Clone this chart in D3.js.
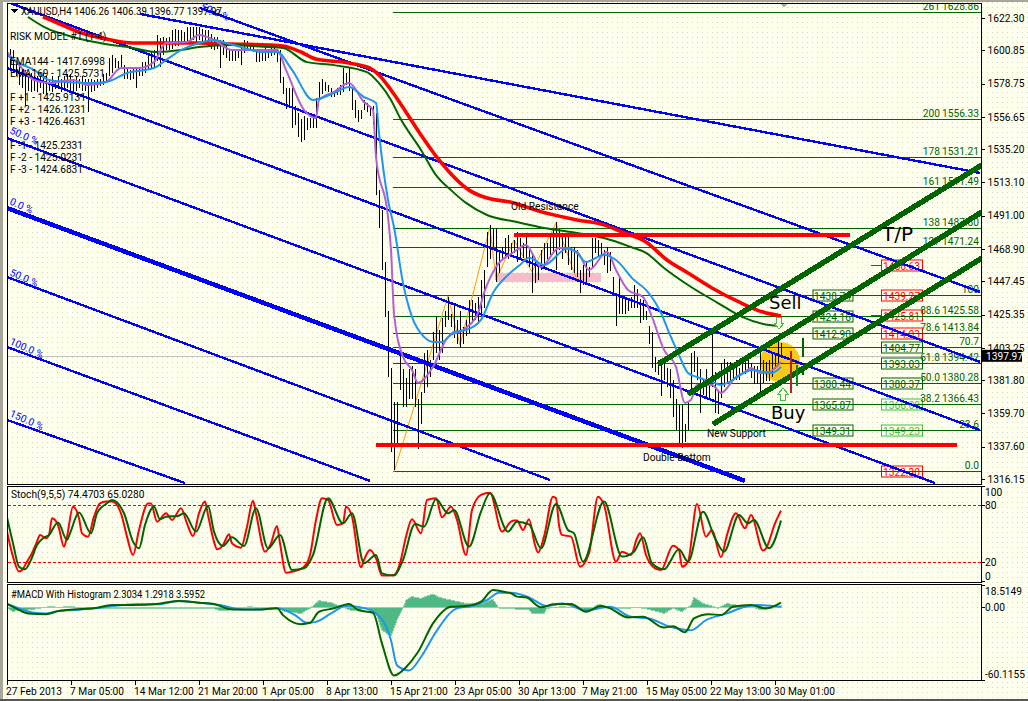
<!DOCTYPE html>
<html><head><meta charset="utf-8">
<style>html,body{margin:0;padding:0;background:#fff;overflow:hidden}svg{display:block}text{font-family:Roboto,"Noto Sans",sans-serif;font-size:10.2px;fill:#000}line,path{shape-rendering:crispEdges}</style>
<script src="https://cdn.jsdelivr.net/npm/d3@7/dist/d3.min.js"></script>
</head><body><svg id="c" width="1028" height="701"></svg>
<script>
const barHigh=[1594,1602,1601,1594,1591,1588,1588,1586,1586,1584,
1584,1586,1586,1584,1582,1584,1581,1584,1582,1584,
1585,1585,1582,1584,1582,1584,1582,1582,1582,1581,
1582,1582,1585,1586,1596,1598,1596,1594,1598,1591,
1589,1588,1590,1589,1590,1593,1593,1598,1600,1601,
1611,1609,1610,1609,1610,1614,1615,1614,1614,1613,
1616,1616,1616,1616,1616,1615,1614,1614,1612,1610,
1610,1608,1608,1605,1601,1602,1601,1602,1603,1608,
1607,1606,1606,1602,1601,1601,1603,1601,1603,1604,
1602,1601,1583,1576,1576,1576,1564,1559,1555,1557,
1556,1556,1556,1569,1580,1582,1580,1578,1576,1574,
1576,1578,1589,1586,1589,1576,1568,1561,1561,1568,
1566,1564,1564,1559,1508,1495,1460,1428,1390,1367,
1367,1403,1389,1383,1389,1391,1389,1369,1374,1400,
1402,1395,1414,1424,1415,1423,1428,1437,1426,1433,
1422,1428,1417,1422,1435,1435,1433,1437,1448,1455,
1480,1485,1482,1483,1466,1470,1476,1478,1473,1475,
1480,1476,1473,1477,1470,1465,1463,1460,1468,1473,
1473,1478,1482,1487,1482,1478,1478,1478,1470,1470,
1468,1455,1458,1460,1457,1476,1476,1475,1473,1468,
1470,1467,1450,1438,1450,1438,1437,1436,1437,1445,
1442,1436,1435,1428,1418,1414,1397,1395,1395,1395,
1390,1389,1382,1369,1365,1365,1353,1367,1400,1401,
1397,1389,1382,1389,1382,1414,1387,1375,1393,1396,
1394,1394,1391,1395,1390,1395,1395,1397,1393,1391,
1391,1403,1395,1394,1395,1400,1400,1410,1406.39];
const barLow=[1586,1589,1588,1584,1578,1576,1564,1574,1573,1574,
1573,1576,1572,1571,1574,1573,1575,1575,1573,1576,
1576,1574,1573,1574,1576,1574,1574,1560,1573,1574,
1576,1577,1578,1580,1584,1586,1589,1588,1589,1582,
1582,1581,1582,1576,1584,1584,1586,1588,1589,1589,
1594,1590,1598,1601,1601,1602,1604,1604,1606,1605,
1606,1605,1608,1606,1608,1606,1605,1603,1602,1601,
1602,1589,1598,1596,1594,1594,1594,1596,1591,1599,
1601,1601,1600,1593,1593,1594,1594,1596,1597,1598,
1593,1579,1572,1562,1563,1549,1551,1543,1540,1541,
1548,1549,1549,1549,1568,1572,1574,1573,1570,1570,
1571,1571,1573,1578,1574,1561,1556,1553,1555,1561,
1560,1557,1551,1505,1483,1455,1424,1384,1334,1322,
1340,1375,1364,1364,1369,1369,1364,1336,1353,1373,
1377,1384,1395,1400,1395,1400,1417,1422,1417,1410,
1406,1404,1406,1411,1413,1420,1422,1420,1426,1430,
1457,1462,1470,1447,1453,1462,1464,1462,1464,1466,
1460,1462,1463,1462,1457,1440,1446,1448,1455,1456,
1462,1465,1466,1455,1468,1462,1466,1458,1455,1453,
1450,1440,1445,1447,1450,1457,1466,1464,1465,1458,
1453,1454,1438,1418,1426,1426,1426,1428,1430,1430,
1430,1420,1422,1422,1406,1390,1387,1385,1371,1382,
1377,1370,1357,1349,1340,1337,1341,1349,1375,1387,
1382,1360,1372,1369,1370,1377,1360,1359,1370,1377,
1380,1381,1381,1382,1382,1386,1386,1389,1383,1379,
1379,1373,1380,1381,1381,1384,1389,1391,1396.77];
const maRed=[[12,1623],[18,1618],[24,1613],[33,1608.4],[42,1605.7],[55,1605.7],[64,1605.7],[75,1605],[87,1604.4],[92,1603.7],[98,1599.7],[103,1595],[114,1592.4],[121,1589],[124,1584.5],[128,1574.5],[131,1565.9],[138,1544.6],[144,1528],[154,1508],[159,1503.4],[169,1499.5],[177,1494.2],[190,1488.2],[199,1484.9],[205,1480.2],[213,1473.6],[220,1461.6],[227,1453],[235,1443],[244,1433.7],[252,1427],[258,1424.4]];
const maGreen=[[7,1623],[13,1615.7],[22,1609.7],[31,1605.7],[42,1602.4],[50,1599.7],[58,1601],[64,1603],[75,1604.4],[87,1603],[92,1602.4],[100,1593],[109,1591],[120,1586.4],[124,1579],[128,1567.9],[131,1556],[138,1534.7],[143,1518],[148,1508],[153,1499.5],[160,1491.5],[170,1486.8],[179,1482.9],[190,1479.5],[199,1476.2],[208,1470.2],[213,1466.3],[219,1456.3],[227,1445],[237,1433],[245,1423.8],[254,1418.4],[258,1417.8]];
const maBlue=[[0,1597.7],[4,1592.4],[9,1587.8],[14,1581.1],[20,1579.8],[27,1579.1],[33,1579.8],[40,1585.8],[49,1589.1],[53,1594.4],[58,1601],[64,1605.7],[69,1607.7],[73,1605.7],[79,1602.4],[85,1599.7],[90,1599.7],[95,1587.8],[102,1567.9],[109,1572.5],[114,1576.5],[119,1569.8],[123,1565.9],[124,1546],[127,1501.5],[129,1483.5],[132,1446.3],[135,1423.8],[139,1410.5],[142,1407.2],[145,1407.2],[149,1413.8],[153,1415.1],[158,1421.8],[162,1439.7],[167,1451.7],[171,1458.3],[174,1463],[179,1458.3],[187,1469.6],[190,1466.3],[193,1460.3],[199,1465],[203,1461.6],[209,1448.3],[213,1441.7],[218,1426.4],[221,1411.8],[224,1398.5],[227,1386.6],[230,1383.9],[235,1380.6],[238,1378.6],[243,1383.3],[246,1387.2],[249,1388.6],[252,1387.2],[255,1386.6],[258,1390.6]];
const maPurple=[[0,1599.7],[4,1591.1],[9,1581.1],[14,1579.1],[22,1581.1],[27,1577.8],[33,1579.8],[38,1589.1],[44,1589.1],[49,1593.1],[53,1605.7],[60,1606.4],[64,1611],[69,1607.7],[75,1601],[83,1601],[90,1601],[93,1587.8],[99,1561.2],[103,1555.9],[104,1567.9],[109,1573.2],[114,1579.1],[119,1566.5],[122,1561.2],[123,1530],[127,1490.2],[128,1468.2],[129,1426.4],[132,1397.2],[135,1388.6],[137,1380],[142,1390.6],[147,1410.5],[152,1415.1],[157,1426.4],[159,1439.7],[163,1457],[169,1466.9],[173,1471.6],[178,1457],[184,1469.6],[190,1466.9],[194,1455],[200,1466.9],[203,1455],[207,1441.7],[212,1437],[215,1423.8],[219,1401.9],[223,1390.6],[226,1366.7],[228,1368.7],[230,1378.6],[235,1378.6],[238,1373.3],[243,1383.9],[246,1387.2],[248,1389.9],[251,1386.6],[254,1387.2],[258,1393.9]];
const stochMain=[[0,52.3],[2,26],[4,10.2],[5,12],[7,22.5],[8,27.7],[10,41.8],[11,48.8],[13,45.3],[14,48.8],[15,66.3],[17,59.3],[19,36.5],[20,47],[22,78.6],[24,66.3],[25,50.5],[27,47],[29,68],[31,82],[33,83.9],[35,83.9],[38,71.6],[40,47],[42,27.7],[44,54],[47,82],[48,82],[50,62.8],[53,71.6],[55,64.6],[58,76.8],[60,61],[62,47.7],[64,71.6],[66,83.9],[67,69.8],[69,41.8],[70,33.7],[72,38.2],[74,49.5],[75,40],[78,35.4],[80,57.5],[82,84.9],[83,71.6],[86,31.2],[88,40],[90,58.2],[91,40],[93,9],[95,10],[99,15.4],[101,27.7],[103,64.6],[105,87.4],[107,85.6],[110,59.3],[112,61],[113,78.6],[115,68],[118,14.7],[119,22.5],[121,33],[123,24.2],[125,6],[129,6.7],[131,19],[133,47],[135,65.3],[138,50.5],[140,85.6],[143,87.4],[145,67.4],[148,78.6],[150,64.6],[153,27.7],[155,75],[158,90.9],[161,93.3],[165,52.3],[168,62.8],[169,63.9],[170,63.9],[172,54],[174,65.3],[176,38.2],[177,30.2],[179,47],[182,89],[183,87.4],[184,59.3],[185,48.8],[188,47],[191,15.4],[194,29.5],[197,89],[199,80.4],[203,20.7],[205,31.2],[208,27.7],[210,45.3],[211,50.5],[213,27.7],[216,13.7],[218,12],[222,37.5],[224,33],[225,15.4],[227,20.7],[230,81.4],[233,47],[235,54],[238,25.3],[240,48.8],[243,71.6],[246,55.8],[248,69.8],[252,32.3],[253,34.7],[256,61],[258,74.4]];
const stochSignal=[[0,67.4],[2,40],[4,15.4],[6,12.6],[8,22.5],[10,38.2],[12,45.3],[14,48.8],[17,61.8],[20,43.5],[21,50.5],[24,72.3],[28,50.5],[30,71.6],[33,81.4],[35,85.6],[39,71.6],[42,41.8],[44,34.7],[46,59.3],[49,78.6],[51,65.3],[53,68],[57,68.8],[59,71.6],[63,52.3],[67,79.3],[69,52.3],[72,37.2],[75,46.3],[79,37.2],[83,76.8],[87,34.7],[91,48.8],[95,12],[99,13.7],[102,27.7],[107,87.4],[112,61],[115,71.6],[119,19],[123,27.7],[125,8.4],[129,6],[132,22.5],[136,60.4],[139,57.5],[143,86.3],[147,71.6],[149,75],[154,36.5],[158,73.3],[161,92.6],[167,52.3],[170,62.8],[174,60],[178,34.7],[183,81.4],[187,54],[189,50.5],[192,20.7],[199,83.9],[205,26],[209,31.2],[212,46.3],[215,19],[219,12.6],[224,33.7],[227,20.7],[232,73.3],[236,45.3],[239,31.2],[244,69.8],[247,61],[249,64.6],[254,34.7],[258,63.9]];
const macdHist=[[0,0],[2,-3.6],[3,-2.8],[7,-2.2],[10,-1.1],[14,.6],[18,0],[21,1.1],[25,-.8],[31,-.6],[40,-1.1],[44,-1.1],[53,-1.1],[62,-.6],[69,-1.1],[71,-2.8],[74,-2.2],[78,-1.1],[81,1.1],[83,-.8],[90,0],[93,-3.6],[98,-5],[101,-.8],[104,5.5],[108,3.9],[112,0],[115,-2.8],[120,-.6],[123,-5],[125,-18.9],[128,-23.9],[130,-10.6],[132,-.8],[133,6.1],[135,8.9],[138,7.5],[142,11.1],[144,8.3],[153,3.3],[158,2.8],[162,6.7],[164,-.8],[168,-1.1],[174,-2.2],[175,-5],[179,-5],[180,-.8],[185,.6],[192,-.8],[194,-3.6],[197,2.8],[202,-.8],[207,-.8],[210,0],[214,-1.7],[219,-5],[222,-.8],[225,-3.6],[228,1.9],[229,8.3],[232,3.3],[235,1.1],[237,-.8],[240,3.3],[243,1.9],[248,1.1],[251,-2.2],[255,-.8],[258,1.1]];
const macdLine=[[0,2.8],[3,-.8],[7,-5],[13,-5.6],[17,-3.1],[22,-1.7],[29,-.8],[35,1.9],[42,1.9],[50,2.8],[57,5.3],[64,3.9],[69,2.8],[75,-1.7],[83,-1.7],[90,-.8],[92,-6.4],[98,-13.9],[101,-12.8],[104,-3.6],[109,-.8],[114,2.8],[117,-2.2],[122,-4.5],[125,-30],[129,-56.4],[133,-49.5],[137,-37],[142,-13.3],[148,.5],[153,1.1],[158,4.7],[162,14.4],[167,12.2],[168,11.7],[170,8.9],[173,8.3],[178,0],[182,2.5],[188,2.8],[193,-3.6],[198,1.1],[201,-.8],[207,-8.3],[212,-7.8],[219,-16.7],[222,-15.6],[226,-20.6],[229,-9.2],[234,-5.6],[238,-6.4],[242,.5],[248,1.9],[253,-.8],[258,3.9]];
const macdSignal=[[0,2.8],[4,-.8],[9,-4.5],[13,-5],[17,-3.1],[22,-2.2],[29,-.8],[35,1.1],[43,2.5],[50,2.5],[57,5.3],[64,3.9],[71,1.9],[78,-1.7],[84,-1.7],[90,-.8],[96,-6.4],[100,-12.8],[103,-12],[108,-5],[113,1.1],[118,0],[123,-5],[128,-27.2],[130,-48],[134,-52.2],[138,-41.1],[143,-20.3],[150,-.8],[155,1.1],[160,6.1],[164,12.2],[168,12.2],[174,8.3],[180,1.1],[185,3.3],[193,-2.2],[201,.5],[208,-7.8],[214,-9.2],[221,-16.1],[228,-18.9],[233,-10.6],[240,-5],[246,.5],[250,1.9],[258,.5]];
const priceTicks=[1622.30,1600.85,1578.75,1556.65,1535.20,1513.10,1491.00,1468.90,1447.45,1425.35,1403.25,1381.80,1359.70,1337.60,1316.15];
const dateLabels=["27 Feb 2013","7 Mar 05:00","14 Mar 12:00","21 Mar 20:00","1 Apr 05:00","8 Apr 13:00","15 Apr 21:00","23 Apr 05:00","30 Apr 13:00","7 May 21:00","15 May 05:00","22 May 13:00","30 May 01:00"];
const fibPrice=[1626.6,1555,1529.8,1509.8,1482.7,1470,1438.4,1424.2,1413,1403.8,1393.1,1380,1365.9,1348.6,1321.2];
const fibLevel=["261","200","178","161","138","127","100","88.6","78.6","70.7","61.8","50.0","38.2","23.6","0.0"];
const fibValue=["1628.86","1556.33","1531.21","1511.49","1487.80","1471.24","","1425.58","1413.84","","1394.42","1380.28","1366.43","",""];
const blueLines=[[44.3,1625,324.3,1519.4],[64.3,1629,324.3,1440.4],[0,1633,324.3,1393.9],[0,1589.1,324.3,1348.7],[0,1542.6,309.3,1313.5],[0,1450.3,181,1315.5],[0,1403.8,121,1314.9],[0,1355.4,59.3,1313.5]];
const blueThick=[0,1496.1,246,1314.9];
const greenChannels=[[217.7,1393.2,325,1524.7],[227.7,1373.3,325,1493.5],[236,1353.4,325,1462.9]];
const resistance=[169.7,280.3,1478.2];
const support=[123.7,316,1338.8];
const zigzag=[[129,1320.8],[147,1437.7],[151,1405.2],[161,1483.5],[163,1448.3],[169,1474.9],[175,1453.6],[183,1486.2],[190,1448.3]];
const pinkZone=[163,198,1453,1447];
const leftBoxes=[["1438.74",1438.4,1],["1424.16",1424.2,0],["1412.90",1413,1],["1380.44",1380,0],["1365.87",1365.9,1],["1349.31",1348.6,0]];
const rightGreen=[["1404.77",1403.8,1,"#006400"],["1393.03",1393.1,0,"#006400"],["1380.37",1380,0,"#006400"],["1366.09",1365.9,1,"#3fc03f"],["1349.23",1348.6,0,"#3fc03f"]];
const rightRed=[["1456.63",1458.5],["1439.27",1438.4],["1425.81",1425.2],["1414.03",1413],["1322.30",1321.2]];
const infoLines=[["RISK MODEL #1 (1-4)",36],["EMA144 - 1417.6998",61],["EMA169 - 1425.5731",73],["F +1 - 1425.9131",97],["F +2 - 1426.1231",109],["F +3 - 1426.4631",121],["F -1 - 1425.2331",145],["F -2 - 1425.0231",157],["F -3 - 1424.6831",169]];
const fanLabels=[["50.0 %",1546],["0.0 %",1498.8],["50.0 %",1451.6],["100.0 %",1405.8],["150.0 %",1358]];

const svg=d3.select("#c");
const defs=svg.append("defs");
const pat=defs.append("pattern").attr("id","dots").attr("width",5).attr("height",5).attr("patternUnits","userSpaceOnUse");
pat.append("rect").attr("width",5).attr("height",5).attr("fill","#ffffee");
pat.append("rect").attr("x",2).attr("y",2).attr("width",1).attr("height",1).attr("fill","#d6d6c8");
const clip=(id,y,h)=>defs.append("clipPath").attr("id",id).append("rect").attr("x",8).attr("y",y).attr("width",973).attr("height",h);
clip("cm",4,480);clip("cs",487,95);clip("cd",585,95);

svg.append("rect").attr("width",1028).attr("height",701).attr("fill","url(#dots)");
svg.append("rect").attr("width",1028).attr("height",2).attr("fill","#a8a69a");
svg.append("rect").attr("width",3).attr("height",701).attr("fill","#a8a69a");
svg.append("rect").attr("y",699).attr("width",1028).attr("height",2).attr("fill","#555");

const x=d3.scaleLinear([0,258],[7,781]);
const y=d3.scaleLinear([1622.3,1316.15],[18,479]);
const ys=d3.scaleLinear([0,100],[581.3,486.3]);
const ym=d3.scaleLinear([-60.1155,18.5149],[680,585]);

const main=svg.append("g").attr("clip-path","url(#cm)");
const seg=(g,d,c,w,cap)=>g.append("line").attr("x1",x(d[0])).attr("y1",y(d[1])).attr("x2",x(d[2])).attr("y2",y(d[3])).attr("stroke",c).attr("stroke-width",w).attr("stroke-linecap",cap||"butt");
const curve=(g,pts,sy,c,w,k)=>g.append("path").attr("d",d3.line().curve(k||d3.curveMonotoneX).x(p=>x(p[0])).y(p=>sy(p[1]))(pts)).attr("fill","none").attr("stroke",c).attr("stroke-width",w).attr("stroke-linejoin","round").style("shape-rendering","geometricPrecision");

main.append("line").attr("x1",7).attr("x2",981).attr("y1",Math.round(y(1397.97))+.5).attr("y2",Math.round(y(1397.97))+.5).attr("stroke","#c4c4c4").attr("stroke-width",1);
main.append("circle").attr("cx",x(257.7)).attr("cy",y(1393.9)).attr("r",20).attr("fill","#f9c914");
main.append("rect").attr("x",x(pinkZone[0])).attr("width",x(pinkZone[1])-x(pinkZone[0])).attr("y",y(pinkZone[2])).attr("height",y(pinkZone[3])-y(pinkZone[2])).attr("fill","#f7bccb");
function box(label,p,bx,w,c,leadX){
  const cy=Math.round(y(p))+.5;
  if(leadX!=null) main.append("line").attr("x1",leadX).attr("x2",bx).attr("y1",cy).attr("y2",cy).attr("stroke",c).attr("stroke-width",1.5);
  main.append("rect").attr("x",bx+.5).attr("y",cy-5.5).attr("width",w).attr("height",11).attr("fill","#ffffee").attr("stroke",c).attr("stroke-width",1);
  main.append("text").attr("x",bx+w/2).attr("y",cy+4).attr("text-anchor","middle").style("fill",c).text(label);
}
leftBoxes.forEach(b=>box(b[0],b[1],812.5,40,"#006400",b[2]?801:null));
rightGreen.forEach(b=>box(b[0],b[1],881,41,b[3],b[2]?871:null));
rightRed.forEach(b=>box(b[0],b[1],881,41,"#ff0000",871));
fibPrice.forEach((p,i)=>{
  main.append("line").attr("x1",393).attr("x2",981).attr("y1",Math.round(y(p))+.5).attr("y2",Math.round(y(p))+.5).attr("stroke","#006400").attr("stroke-width",1);
  const lx=fibValue[i]?940:979;
  main.append("text").attr("x",lx).attr("y",y(p)-2).attr("text-anchor","end").style("fill","#006400").text(fibLevel[i]);
  if(fibValue[i]) main.append("text").attr("x",979).attr("y",y(p)-2).attr("text-anchor","end").style("fill","#006400").text(fibValue[i]);
});
curve(main,zigzag,y,"#ff9900",1,d3.curveLinear);
main.append("g").selectAll("line").data(barHigh).join("line")
 .attr("x1",(d,i)=>x(i)+.5).attr("x2",(d,i)=>x(i)+.5).attr("y1",d=>y(d)).attr("y2",(d,i)=>y(barLow[i]))
 .attr("stroke","#000").attr("stroke-width",1);
blueLines.forEach(d=>seg(main,d,"#0000ff",2.4));
seg(main,blueThick,"#0000ff",4.5);
fanLabels.forEach(d=>main.append("text").attr("transform",`translate(9,${y(d[1])}) rotate(24)`).style("fill","#0000ff").text(d[0]));
main.append("text").attr("transform","translate(200,9) rotate(24)").style("fill","#0000ff").text("50.0 %");
curve(main,maRed,y,"#ff0000",3.6);
curve(main,maGreen,y,"#006400",2);
curve(main,maPurple,y,"#b45fd6",2);
curve(main,maBlue,y,"#1e96f0",2);
greenChannels.forEach(d=>seg(main,d,"#006400",5.5,"round"));
seg(main,[resistance[0],resistance[2],resistance[1],resistance[2]],"#ff0000",4.5,"round");
seg(main,[support[0],support[2],support[1],support[2]],"#ff0000",4.5,"round");
const candle=(c,i,hi,lo,w)=>main.append("line").attr("x1",x(i)).attr("x2",x(i)).attr("y1",y(hi)).attr("y2",y(lo)).attr("stroke",c).attr("stroke-width",w);
candle("#b5202c",261.3,1401,1373,2.5);
candle("#0a8a2a",263.3,1392,1378,2.5);
candle("#006400",265.3,1410,1397,2);
candle("#006400",265.3,1390,1385,2);
const arrow=(cx,cy,dir)=>main.append("path").attr("transform",`translate(${cx},${cy}) scale(1,${dir})`).attr("d","M0,-6L5,0L2.2,0L2.2,6L-2.2,6L-2.2,0L-5,0Z").attr("fill","#ffffee").attr("stroke","#3fc03f").attr("stroke-width",1);
arrow(783,394,1);arrow(779,323,-1);
const big=(t,tx,ty,s)=>main.append("text").attr("x",tx).attr("y",ty).style("font-family","'DejaVu Sans'").style("font-size",s+"px").text(t);
big("Sell",769,309,18);big("Buy",771,419,18);big("T/P",882,241,20);
[["Old Resistance",511,210],["New Support",707,437],["Double Bottom",643,461]].forEach(d=>main.append("text").attr("x",d[1]).attr("y",d[2]).text(d[0]));
main.append("text").attr("x",21).attr("y",15).attr("textLength",201).attr("lengthAdjust","spacingAndGlyphs").text("XAUUSD,H4  1406.26 1406.39 1396.77 1397.97");
main.append("path").attr("d",d3.line()([[10,9],[18,9],[14,13]])).attr("fill","#000");
infoLines.forEach(d=>main.append("text").attr("x",10).attr("y",d[1]+4).text(d[0]));
main.append("path").attr("d",d3.line()([[780,3],[788,3],[784,8]])).attr("fill","#aaa");

const st=svg.append("g").attr("clip-path","url(#cs)");
[80,20].forEach(v=>st.append("line").attr("x1",8).attr("x2",981).attr("y1",Math.round(ys(v))+.5).attr("y2",Math.round(ys(v))+.5).attr("stroke","#ff0000").attr("stroke-dasharray","3,2"));
curve(st,stochMain,ys,"#ff0000",2);
curve(st,stochSignal,ys,"#006400",2);
svg.append("text").attr("x",11).attr("y",498).text("Stoch(9,5,5) 74.4703 65.0280");

const md=svg.append("g").attr("clip-path","url(#cd)");
md.append("path").attr("d",d3.area().x(p=>x(p[0])).y0(ym(0)).y1(p=>ym(p[1]))(macdHist)).attr("fill","#4fb985").attr("stroke","#8fd4a8").attr("stroke-width",1);
curve(md,macdSignal,ym,"#1e96f0",2);
curve(md,macdLine,ym,"#006400",2);
svg.append("text").attr("x",11).attr("y",598).attr("textLength",194).attr("lengthAdjust","spacingAndGlyphs").text("#MACD With Histogram 2.3034 1.2918 3.5952");

[[7,3,974,481],[7,486,974,96],[7,584,974,96]].forEach(r=>svg.append("rect").attr("x",r[0]+.5).attr("y",r[1]+.5).attr("width",r[2]).attr("height",r[3]).attr("fill","none").attr("stroke","#000"));

const axisRight=svg.append("g").attr("transform","translate(981.5,0)").call(d3.axisRight(y).tickValues(priceTicks).tickSize(3).tickSizeOuter(0).tickPadding(3).tickFormat(d3.format(".2f")));
axisRight.select(".domain").remove();
axisRight.selectAll("text").style("fill","#000").style("font-size","10.2px").style("font-family","Roboto");
svg.selectAll(".tick line").attr("stroke","#000");
svg.append("rect").attr("x",982).attr("y",y(1397.97)-6).attr("width",40).attr("height",12).attr("fill","#000");
svg.append("text").attr("x",986).attr("y",y(1397.97)+4).style("fill","#fff").text("1397.97");
[[100,6],[80,0],[20,0],[0,-5]].forEach(d=>{
  svg.append("text").attr("x",985).attr("y",ys(d[0])+d[1]+4).text(d[0]);
  svg.append("line").attr("x1",981).attr("x2",985).attr("y1",ys(d[0])).attr("y2",ys(d[0])).attr("stroke","#000");
});
[[18.5149,"18.5149",6],[0,"0.00",0],[-60.1155,"-60.1155",-6]].forEach(d=>{
  svg.append("text").attr("x",985).attr("y",ym(d[0])+d[2]+4).text(d[1]);
  svg.append("line").attr("x1",981).attr("x2",985).attr("y1",ym(d[0])).attr("y2",ym(d[0])).attr("stroke","#000");
});
dateLabels.forEach((t,i)=>{
  const tx=x(i*64/3);
  svg.append("line").attr("x1",tx+.5).attr("x2",tx+.5).attr("y1",680).attr("y2",685).attr("stroke","#000");
  svg.append("text").attr("x",tx-1).attr("y",695).text(t);
});
</script></body></html>
